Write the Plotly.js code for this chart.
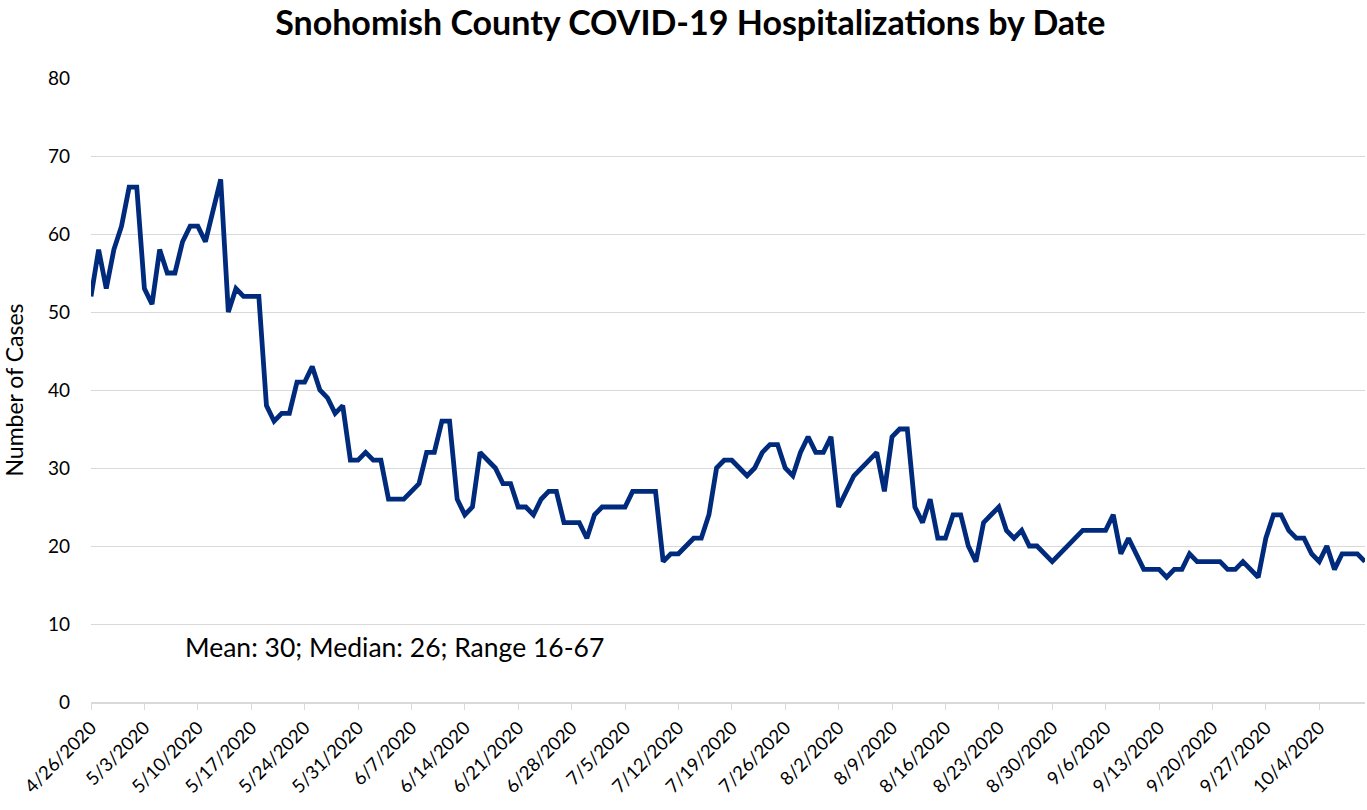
<!DOCTYPE html>
<html>
<head>
<meta charset="utf-8">
<script src="https://cdn.plot.ly/plotly-3.0.1.min.js"></script>
<style>
html,body{margin:0;padding:0;background:#fff;}
#chart{width:1367px;height:810px;}
</style>
</head>
<body>
<div id="chart"></div>
<script>
const dates = [
  "2020-04-26","2020-04-27","2020-04-28","2020-04-29","2020-04-30","2020-05-01","2020-05-02",
  "2020-05-03","2020-05-04","2020-05-05","2020-05-06","2020-05-07","2020-05-08","2020-05-09",
  "2020-05-10","2020-05-11","2020-05-13","2020-05-14","2020-05-15","2020-05-16",
  "2020-05-17","2020-05-18","2020-05-19","2020-05-20","2020-05-21","2020-05-22","2020-05-23",
  "2020-05-24","2020-05-25","2020-05-26","2020-05-27","2020-05-28","2020-05-29","2020-05-30",
  "2020-05-31","2020-06-01","2020-06-02","2020-06-03","2020-06-04","2020-06-05","2020-06-06",
  "2020-06-07","2020-06-08","2020-06-09","2020-06-10","2020-06-11","2020-06-12","2020-06-13",
  "2020-06-14","2020-06-15","2020-06-16","2020-06-17","2020-06-18","2020-06-19","2020-06-20",
  "2020-06-21","2020-06-22","2020-06-23","2020-06-24","2020-06-25","2020-06-26","2020-06-27",
  "2020-06-28","2020-06-29","2020-06-30","2020-07-01","2020-07-02","2020-07-03","2020-07-04",
  "2020-07-05","2020-07-06","2020-07-07","2020-07-08","2020-07-09","2020-07-10","2020-07-11",
  "2020-07-12","2020-07-13","2020-07-14","2020-07-15","2020-07-16","2020-07-17","2020-07-18",
  "2020-07-19","2020-07-20","2020-07-21","2020-07-22","2020-07-23","2020-07-24","2020-07-25",
  "2020-07-26","2020-07-27","2020-07-28","2020-07-29","2020-07-30","2020-07-31","2020-08-01",
  "2020-08-02","2020-08-04","2020-08-07","2020-08-08",
  "2020-08-09","2020-08-10","2020-08-11","2020-08-12","2020-08-13","2020-08-14","2020-08-15",
  "2020-08-16","2020-08-17","2020-08-18","2020-08-19","2020-08-20","2020-08-21","2020-08-22",
  "2020-08-23","2020-08-24","2020-08-25","2020-08-26","2020-08-27","2020-08-28","2020-08-29",
  "2020-08-30","2020-09-03","2020-09-04","2020-09-05",
  "2020-09-06","2020-09-07","2020-09-08","2020-09-09","2020-09-10","2020-09-11","2020-09-12",
  "2020-09-13","2020-09-14","2020-09-15","2020-09-16","2020-09-17","2020-09-18","2020-09-19",
  "2020-09-20","2020-09-21","2020-09-22","2020-09-23","2020-09-24","2020-09-25","2020-09-26",
  "2020-09-27","2020-09-28","2020-09-29","2020-09-30","2020-10-01","2020-10-02","2020-10-03",
  "2020-10-04","2020-10-05","2020-10-06","2020-10-07","2020-10-08","2020-10-09","2020-10-10"
];
const hospitalizations = [
  52,58,53,58,61,66,66,
  53,51,58,55,55,59,61,
  61,59,67,50,53,52,
  52,52,38,36,37,37,41,
  41,43,40,39,37,38,31,
  31,32,31,31,26,26,26,
  27,28,32,32,36,36,26,
  24,25,32,31,30,28,28,
  25,25,24,26,27,27,23,
  23,23,21,24,25,25,25,
  25,27,27,27,27,18,19,
  19,20,21,21,24,30,31,
  31,30,29,30,32,33,33,
  30,29,32,34,32,32,34,
  25,29,32,27,
  34,35,35,25,23,26,21,
  21,24,24,20,18,23,24,
  25,22,21,22,20,20,19,
  18,22,22,22,
  22,24,19,21,19,17,17,
  17,16,17,17,19,18,18,
  18,18,17,17,18,17,16,
  21,24,24,22,21,21,19,
  18,20,17,19,19,19,18
];
const chartTitle = "Snohomish County COVID-19 Hospitalizations by Date";
const yTitle = "Number of Cases";
const statsNote = "Mean: 30; Median: 26; Range 16-67";
const xStart = "2020-04-26";
const xEnd = "2020-10-10";

const FONT = "Lato, 'Open Sans', sans-serif";

Plotly.newPlot("chart", [{
  x: dates,
  y: hospitalizations,
  type: "scatter",
  mode: "lines",
  line: {color: "#002A7B", width: 4.8},
  hoverinfo: "x+y"
}], {
  width: 1367, height: 810,
  paper_bgcolor: "#fff", plot_bgcolor: "#fff",
  margin: {l: 91, r: 2, t: 78, b: 108},
  font: {family: FONT, color: "#000"},
  showlegend: false,
  title: {
    text: "<b>" + chartTitle + "</b>",
    font: {family: FONT, size: 34, color: "#000"},
    x: 0.505, xanchor: "center", y: 0.972, yanchor: "middle"
  },
  xaxis: {
    type: "date",
    range: [xStart, xEnd],
    tick0: xStart,
    dtick: 7 * 86400000,
    tickformat: "%-m/%-d/%Y",
    tickangle: -45,
    tickfont: {family: FONT, size: 18.5, color: "#000"},
    ticks: "outside", ticklen: 6, tickcolor: "#d9d9d9", tickwidth: 1.3,
    showgrid: false,
    showline: true, linecolor: "#d9d9d9", linewidth: 1.5,
    zeroline: false,
    automargin: false
  },
  yaxis: {
    range: [0, 80],
    dtick: 10,
    tickfont: {family: FONT, size: 19, color: "#000"},
    ticks: "", ticklabelstandoff: 20,
    showgrid: true, gridcolor: "#d9d9d9", gridwidth: 1.3,
    zeroline: false, showline: false,
    title: {text: yTitle, font: {family: FONT, size: 23, color: "#000"}, standoff: 19},
    automargin: false
  },
  annotations: [{
    text: statsNote,
    xref: "paper", yref: "paper",
    x: 0.072, y: 0.088, xanchor: "left", yanchor: "middle",
    showarrow: false,
    font: {family: FONT, size: 26.5, color: "#000"}
  }]
}, {displayModeBar: false});
</script>
</body>
</html>
